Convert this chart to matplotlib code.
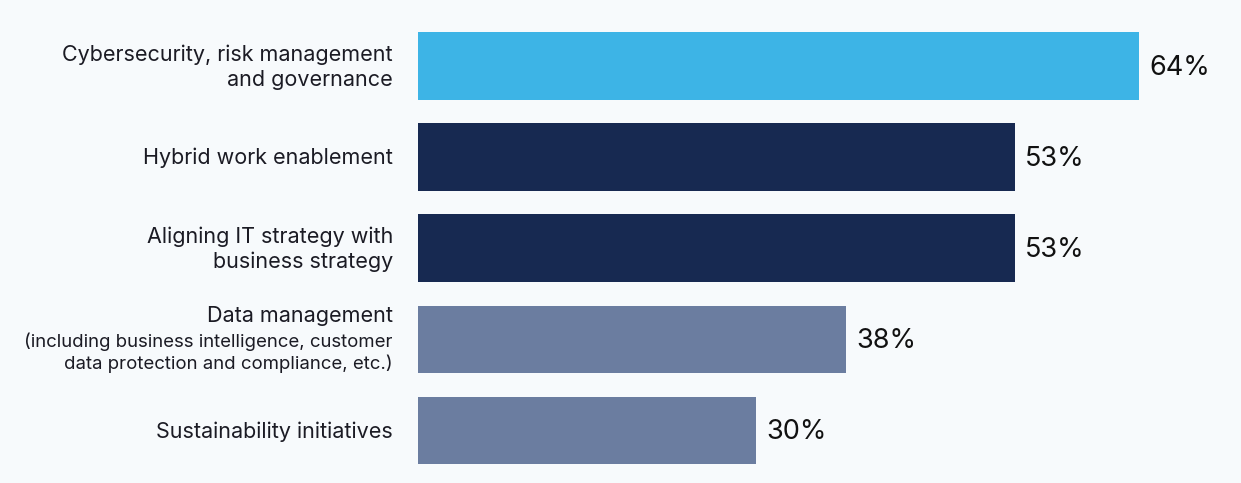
import matplotlib
matplotlib.use("Agg")
import matplotlib.pyplot as plt
from matplotlib.transforms import offset_copy, blended_transform_factory

categories = [
    "Cybersecurity, risk management\nand governance",
    "Hybrid work enablement",
    "Aligning IT strategy with\nbusiness strategy",
    "Data management",
    "Sustainability initiatives",
]
subtitles = ["", "", "", "(including business intelligence, customer\ndata protection and compliance, etc.)", ""]
values = [64, 53, 53, 38, 30]
colors = ["#3db4e6", "#172951", "#172951", "#6b7da0", "#6b7da0"]

BG = "#f7fafc"
TXT = "#1b1b24"
plt.rcParams['font.family'] = ['Inter', 'DejaVu Sans']

fig = plt.figure(figsize=(12.41, 4.83), dpi=100, facecolor=BG)
ax = fig.add_axes([418 / 1241, 0, 1 - 418 / 1241, 1])
ax.set_facecolor(BG)
pos = list(range(len(values)))
ax.barh(pos, values, height=0.74, color=colors)
ax.set_xlim(0, 823 / 11.27)
ax.set_ylim(4.577, -0.724)
ax.axis('off')

for p, v in zip(pos, values):
    t = offset_copy(ax.transData, fig=fig, x=10, y=0, units='dots')
    ax.text(v, p + 0.02, f"{v}%", transform=t, ha='left', va='center',
            fontsize=19.5, color='#111111')

btr = blended_transform_factory(ax.transAxes, ax.transData)
lt = offset_copy(btr, fig=fig, x=-25, y=0, units='dots')
for p, c, s in zip(pos, categories, subtitles):
    if s:
        ax.text(0, p - 0.26, c, transform=lt, ha='right', va='center',
                fontsize=15.5, color=TXT)
        ax.text(0, p + 0.15, s, transform=lt, ha='right', va='center',
                fontsize=13.4, color=TXT, linespacing=1.25)
    else:
        ax.text(0, p + 0.01, c, transform=lt, ha='right', va='center',
                fontsize=15.5, color=TXT, linespacing=1.3)

fig.savefig("out.png", dpi=100, facecolor=BG)
